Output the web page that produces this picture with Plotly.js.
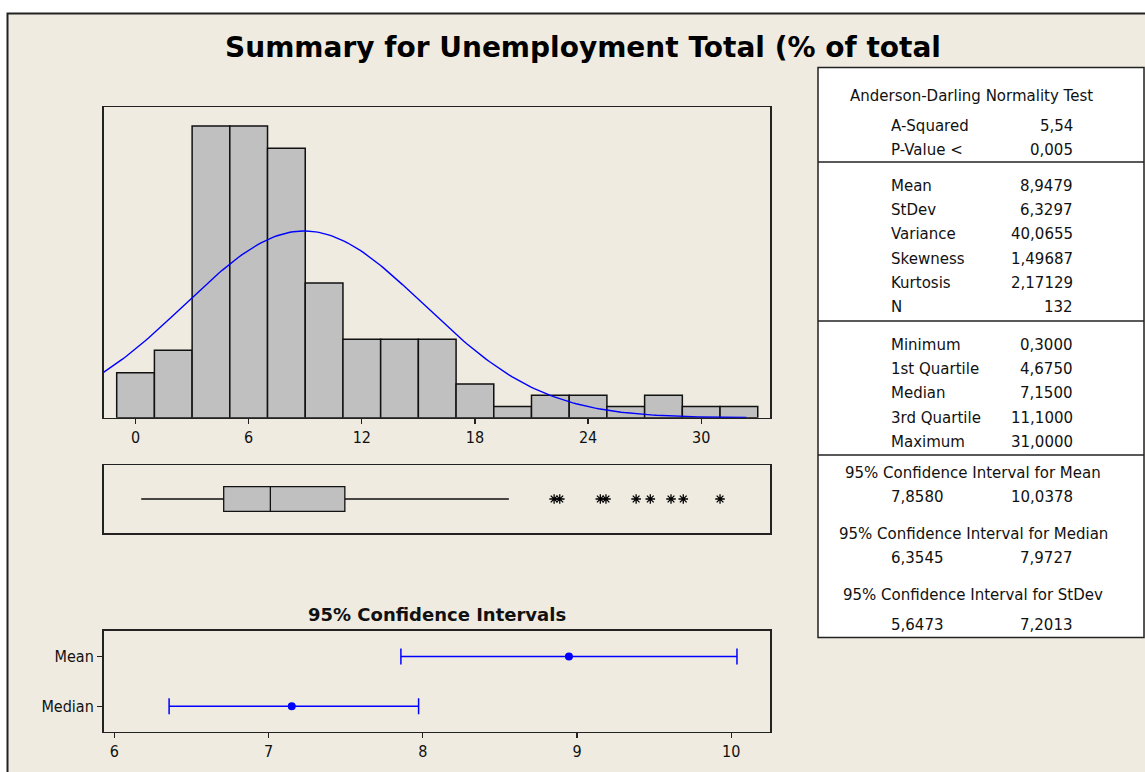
<!DOCTYPE html>
<html>
<head>
<meta charset="utf-8">
<script src="https://cdn.plot.ly/plotly-3.0.1.min.js"></script>
<style>html,body{margin:0;padding:0;background:#fff;}#chart{width:1145px;height:772px;}</style>
</head>
<body>
<div id="chart"></div>
<script>
// ---- Data ----
var binCenters = [0, 2, 4, 6, 8, 10, 12, 14, 16, 18, 20, 22, 24, 26, 28, 30, 32];
var binCounts  = [4, 6, 26, 26, 24, 12, 7, 7, 7, 3, 1, 2, 2, 1, 2, 1, 1];
var binWidth = 2;
var histTicks = [0, 6, 12, 18, 24, 30];

var statMean = 8.9479;
var statStDev = 6.3297;
var statN = 132;

var boxMin = 0.3;
var boxQ1 = 4.675;
var boxMedian = 7.15;
var boxQ3 = 11.1;
var boxUpperWhisker = 19.8;
var outliers = [22.2, 22.5, 24.65, 24.95, 26.55, 27.3, 28.4, 29.05, 31.0];

var ciLabels = ['Mean', 'Median'];
var ciCenter = [8.9479, 7.15];
var ciLow    = [7.8580, 6.3545];
var ciHigh   = [10.0378, 7.9727];
var ciTicks  = [6, 7, 8, 9, 10];

var tableTitle = 'Anderson-Darling Normality Test';
var adLabels = ['A-Squared', 'P-Value <'];
var adValues = ['5,54', '0,005'];
var momLabels = ['Mean', 'StDev', 'Variance', 'Skewness', 'Kurtosis', 'N'];
var momValues = ['8,9479', '6,3297', '40,0655', '1,49687', '2,17129', '132'];
var qLabels = ['Minimum', '1st Quartile', 'Median', '3rd Quartile', 'Maximum'];
var qValues = ['0,3000', '4,6750', '7,1500', '11,1000', '31,0000'];
var ciHeaders = ['95% Confidence Interval for Mean', '95% Confidence Interval for Median', '95% Confidence Interval for StDev'];
var ciLowText = ['7,8580', '6,3545', '5,6473'];
var ciHighText = ['10,0378', '7,9727', '7,2013'];

var chartTitle = 'Summary for Unemployment Total (% of total';

// ---- Layout helpers ----
var W = 1145, H = 772;
function px(x) { return x / W; }
function py(y) { return 1 - y / H; }

var narrow = '"Liberation Sans Narrow", "DejaVu Sans Condensed", "Liberation Sans", Arial, sans-serif';
var wide = '"DejaVu Sans", Verdana, sans-serif';

// normal fit curve from mean / stdev / N
var curveX = [], curveY = [];
var cx0 = -1.7, cx1 = 32.4, steps = 200;
for (var i = 0; i <= steps; i++) {
  var xv = cx0 + (cx1 - cx0) * i / steps;
  var z = (xv - statMean) / statStDev;
  curveX.push(xv);
  curveY.push(statN * binWidth * Math.exp(-0.5 * z * z) / (statStDev * Math.sqrt(2 * Math.PI)));
}

var traces = [
  {
    type: 'bar', x: binCenters, y: binCounts, width: binWidth,
    marker: {color: '#C0C0C0', line: {color: '#111', width: 1.5}},
    xaxis: 'x', yaxis: 'y', hoverinfo: 'none'
  },
  {
    type: 'scatter', mode: 'lines', x: curveX, y: curveY,
    line: {color: '#0000FF', width: 1.4},
    xaxis: 'x', yaxis: 'y', hoverinfo: 'none'
  },
  {
    type: 'box', orientation: 'h', y: [0],
    q1: [boxQ1], median: [boxMedian], q3: [boxQ3],
    lowerfence: [boxMin], upperfence: [boxUpperWhisker],
    width: 0.73, whiskerwidth: 0, boxpoints: false,
    fillcolor: '#C0C0C0', line: {color: '#111', width: 1.3},
    xaxis: 'x2', yaxis: 'y2', hoverinfo: 'none'
  },
  {
    type: 'scatter', mode: 'markers', x: outliers, y: outliers.map(function(){return 0;}),
    marker: {symbol: 'asterisk-open', size: 8, color: '#000', line: {color: '#000', width: 1.3}},
    xaxis: 'x2', yaxis: 'y2', hoverinfo: 'none'
  },
  {
    type: 'scatter', mode: 'markers', x: ciCenter, y: ciLabels,
    marker: {symbol: 'circle', size: 8, color: '#0000FF'},
    error_x: {
      type: 'data', symmetric: false,
      array: ciHigh.map(function(h, i){ return h - ciCenter[i]; }),
      arrayminus: ciLow.map(function(l, i){ return ciCenter[i] - l; }),
      color: '#0000FF', thickness: 1.5, width: 8
    },
    xaxis: 'x3', yaxis: 'y3', hoverinfo: 'none'
  }
];

var frameAxis = {showline: true, linecolor: '#222', linewidth: 1.5, mirror: true, showgrid: false, zeroline: false};
var tickFont = {family: narrow, size: 16, color: '#111'};

var layout = {
  width: W, height: H,
  margin: {l: 0, r: 0, t: 0, b: 0},
  paper_bgcolor: '#FFFFFF',
  plot_bgcolor: '#FFFFFF',
  showlegend: false,
  bargap: 0,
  font: {family: narrow, size: 14, color: '#111'},
  title: {
    text: '<b>' + chartTitle + '</b>',
    x: px(583), y: py(47), xanchor: 'center', yanchor: 'middle',
    font: {family: wide, size: 28, color: '#000'}
  },
  xaxis: Object.assign({}, frameAxis, {
    domain: [px(103.5), px(770)], range: [-1.7, 33.65],
    tickvals: histTicks, ticks: 'outside', ticklen: 5, tickcolor: '#222', tickwidth: 1.2,
    tickfont: tickFont, anchor: 'y'
  }),
  yaxis: Object.assign({}, frameAxis, {
    domain: [py(417.7), py(107.3)], range: [0, 27.66], showticklabels: false, ticks: '', anchor: 'x'
  }),
  xaxis2: Object.assign({}, frameAxis, {
    domain: [px(103.5), px(770)], range: [-1.7, 33.65], showticklabels: false, ticks: '', anchor: 'y2'
  }),
  yaxis2: Object.assign({}, frameAxis, {
    domain: [py(533), py(465)], range: [-1, 1], showticklabels: false, ticks: '', anchor: 'x2'
  }),
  xaxis3: Object.assign({}, frameAxis, {
    domain: [px(103.5), px(770)], range: [5.929, 10.252],
    tickvals: ciTicks, ticks: 'outside', ticklen: 5, tickcolor: '#222', tickwidth: 1.2,
    tickfont: tickFont, anchor: 'y3'
  }),
  yaxis3: Object.assign({}, frameAxis, {
    domain: [py(731.7), py(630.7)], type: 'category',
    categoryorder: 'array', categoryarray: ciLabels.slice().reverse(),
    range: [-0.51, 1.52], ticks: 'outside', ticklen: 5, tickcolor: '#222', tickwidth: 1.2,
    tickfont: tickFont, anchor: 'x3'
  }),
  shapes: [],
  annotations: []
};

// outer beige panel with border
layout.shapes.push({type: 'rect', xref: 'paper', yref: 'paper', layer: 'below',
  x0: px(7.5), x1: 1.2, y0: -0.2, y1: py(13.5),
  fillcolor: '#EFEBE1', line: {color: '#222', width: 2}});

// table box
var tL = 818, tR = 1144, tT = 67.5, tB = 637.5;
layout.shapes.push({type: 'rect', xref: 'paper', yref: 'paper', layer: 'below',
  x0: px(tL), x1: px(tR), y0: py(tB), y1: py(tT),
  fillcolor: '#FFFFFF', line: {color: '#222', width: 1.5}});
[162, 321, 455].forEach(function(yy){
  layout.shapes.push({type: 'line', xref: 'paper', yref: 'paper',
    x0: px(tL), x1: px(tR), y0: py(yy), y1: py(yy), line: {color: '#222', width: 1.5}});
});

function txt(text, x, y, anchor, opts) {
  var a = {text: text, xref: 'paper', yref: 'paper', x: px(x), y: py(y),
    xanchor: anchor, yanchor: 'middle', showarrow: false,
    font: {family: wide, size: 15, color: '#111'}};
  if (opts) Object.assign(a, opts);
  layout.annotations.push(a);
}

var labX = 889, valX = 1075;
txt(tableTitle, 848, 96, 'left');
var adY = [126, 150];
adLabels.forEach(function(l, i){ txt(l, labX, adY[i], 'left'); txt(adValues[i], valX, adY[i], 'right'); });
var momY = [186, 210, 234, 259, 283, 307];
momLabels.forEach(function(l, i){ txt(l, labX, momY[i], 'left'); txt(momValues[i], valX, momY[i], 'right'); });
var qY = [345, 369, 393, 418, 442];
qLabels.forEach(function(l, i){ txt(l, labX, qY[i], 'left'); txt(qValues[i], valX, qY[i], 'right'); });
var hY = [473, 534, 595], vY = [497, 558, 625];
ciHeaders.forEach(function(h, i){
  txt(h, 973, hY[i], 'center');
  txt(ciLowText[i], 889, vY[i], 'left');
  txt(ciHighText[i], valX, vY[i], 'right');
});

// CI subplot title
txt('<b>95% Confidence Intervals</b>', 437, 614, 'center', {font: {family: wide, size: 18, color: '#111'}});

Plotly.newPlot('chart', traces, layout, {displayModeBar: false, staticPlot: true});
</script>
</body>
</html>
